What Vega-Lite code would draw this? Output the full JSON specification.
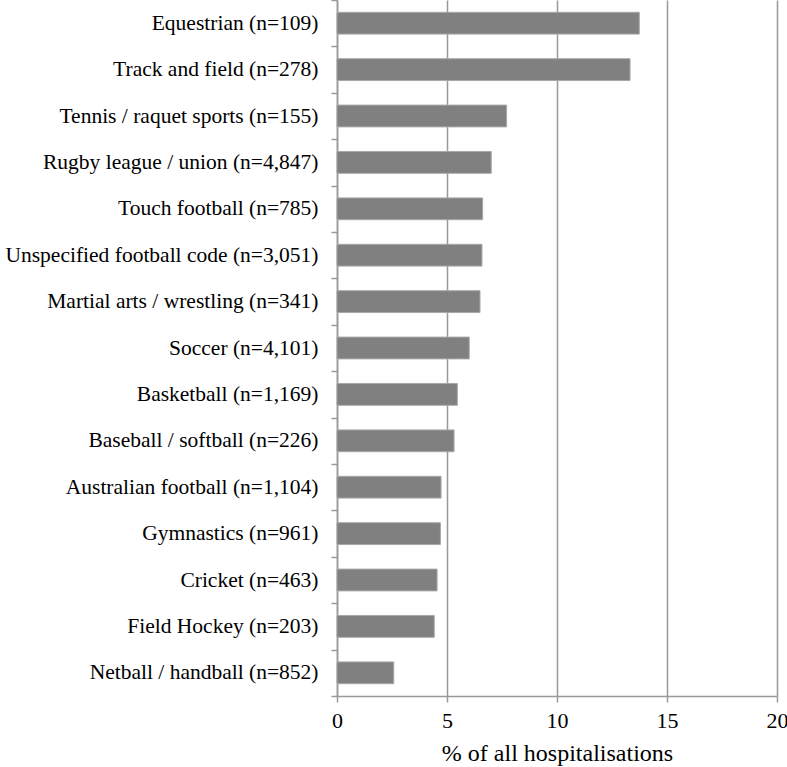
{
  "$schema": "https://vega.github.io/schema/vega-lite/v6.json",
  "width": 440,
  "height": 696,
  "autosize": {"type": "none"},
  "padding": {"left": 337, "top": 0, "right": 10, "bottom": 71},
  "background": "white",
  "data": {
    "values": [
      {"sport": "Equestrian (n=109)", "pct": 13.74},
      {"sport": "Track and field (n=278)", "pct": 13.32},
      {"sport": "Tennis / raquet sports (n=155)", "pct": 7.71},
      {"sport": "Rugby league / union (n=4,847)", "pct": 7.01},
      {"sport": "Touch football (n=785)", "pct": 6.62},
      {"sport": "Unspecified football code (n=3,051)", "pct": 6.59},
      {"sport": "Martial arts / wrestling (n=341)", "pct": 6.5},
      {"sport": "Soccer (n=4,101)", "pct": 6.01},
      {"sport": "Basketball (n=1,169)", "pct": 5.47},
      {"sport": "Baseball / softball (n=226)", "pct": 5.32},
      {"sport": "Australian football (n=1,104)", "pct": 4.73},
      {"sport": "Gymnastics (n=961)", "pct": 4.7},
      {"sport": "Cricket (n=463)", "pct": 4.55},
      {"sport": "Field Hockey (n=203)", "pct": 4.42},
      {"sport": "Netball / handball (n=852)", "pct": 2.58}
    ]
  },
  "mark": {"type": "bar", "height": {"band": 0.47}, "fill": "#808080", "stroke": "#a8a8a8", "strokeWidth": 1},
  "encoding": {
    "y": {
      "field": "sport",
      "type": "nominal",
      "sort": null,
      "scale": {"padding": 0},
      "axis": {
        "title": null,
        "tickBand": "extent",
        "labelFont": "Liberation Serif",
        "labelFontSize": 21.5,
        "labelColor": "#000000",
        "labelPadding": 13,
        "labelLimit": 400,
        "tickSize": 6,
        "tickColor": "#999999",
        "tickWidth": 1.5,
        "domainColor": "#999999",
        "domainWidth": 1.5,
        "grid": false
      }
    },
    "x": {
      "field": "pct",
      "type": "quantitative",
      "scale": {"domain": [0, 20], "nice": false},
      "axis": {
        "title": "% of all hospitalisations",
        "values": [0, 5, 10, 15, 20],
        "labelFlush": false,
        "labelFont": "Liberation Serif",
        "labelFontSize": 22,
        "labelColor": "#000000",
        "labelPadding": 8,
        "titleFont": "Liberation Serif",
        "titleFontSize": 24,
        "titleFontWeight": "normal",
        "titleColor": "#000000",
        "titlePadding": 10,
        "tickSize": 6,
        "tickColor": "#999999",
        "tickWidth": 1.5,
        "domainColor": "#999999",
        "domainWidth": 1.5,
        "grid": true,
        "gridColor": "#999999",
        "gridWidth": 1.5
      }
    }
  },
  "config": {"view": {"stroke": null}}
}
